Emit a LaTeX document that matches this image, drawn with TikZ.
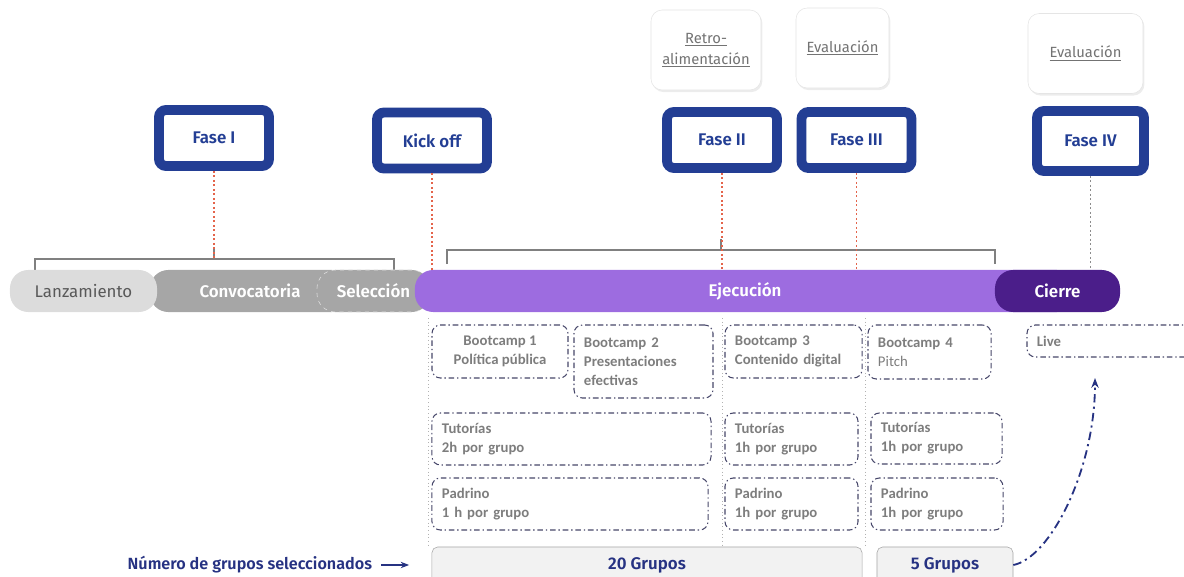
\documentclass[tikz,border=0pt]{standalone}
\usepackage{fontspec}
\setmainfont{Fira Sans}[BoldFont={Fira Sans SemiBold}]
\newfontfamily\carlito{Carlito}
\usetikzlibrary{arrows.meta,shadows}

\definecolor{fasblue}{RGB}{35,62,148}
\definecolor{ejpurple}{RGB}{157,108,224}
\definecolor{cipurple}{RGB}{75,30,138}
\definecolor{lzgray}{RGB}{220,220,220}
\definecolor{cvgray}{RGB}{166,166,166}
\definecolor{txgray}{RGB}{125,125,125}
\definecolor{actline}{RGB}{70,70,105}
\definecolor{dotred}{RGB}{228,100,75}
\definecolor{numblue}{RGB}{38,50,130}

\begin{document}
\begin{tikzpicture}[x=0.025cm, y=-0.025cm,
        fase/.style={draw=fasblue, fill=white, line width=7pt, rounded corners=5pt,
            minimum width=2.75cm, minimum height=1.4cm, text=fasblue,
            font=\bfseries\fontsize{12}{14}\selectfont,
            drop shadow={opacity=0.3, shadow xshift=1pt, shadow yshift=-2pt}},
        retro/.style={draw=black!10, fill=white, rounded corners=8pt, text=black!55,
            minimum height=2cm, align=center, font=\fontsize{10.5}{15}\selectfont,
            drop shadow={opacity=0.15, shadow xshift=1pt, shadow yshift=-1.5pt}},
        bar/.style={rounded corners=13pt, minimum height=1.05cm, text=white,
            font=\bfseries\fontsize{12}{14}\selectfont},
        act/.style={draw=actline, dash pattern=on 4pt off 2pt on 1pt off 2pt,
            line width=0.75pt, rounded corners=6pt, text=txgray, align=left,
            inner xsep=0.25cm, font=\carlito\bfseries\fontsize{10.5}{13.5}\selectfont},
        grp/.style={draw=black!35, fill=black!5, rounded corners=4pt,
            minimum height=0.9cm, text=numblue, font=\bfseries\fontsize{12}{14}\selectfont},
        redlink/.style={draw=dotred, dotted, line width=1.2pt},
        brk/.style={draw=black!50, line width=1.1pt},
        coldiv/.style={draw=black!30, dotted, line width=0.6pt}
    ]
    \useasboundingbox (0,0) rectangle (1184,577);

    % feedback boxes
    \node[retro, minimum width=2.75cm] (rt1) at (706,50) {\underline{Retro-}\\\underline{alimentación}};
    \node[retro, minimum width=2.325cm] (ev1) at (842.5,48) {\underline{Evaluación}};
    \node[retro, minimum width=2.875cm] (ev2) at (1085.5,53.5) {\underline{Evaluación}};

    % phases
    \node[fase] (f1) at (214,138) {Fase I};
    \node[fase] (ko) at (432,140.5) {Kick off};
    \node[fase] (f2) at (722,140) {Fase II};
    \node[fase] (f3) at (856.5,140) {Fase III};
    \node[fase, minimum width=2.675cm, minimum height=1.5cm] (f4) at (1090.5,141) {Fase IV};

    % brackets
    \coordinate (b1top) at (214,259);
    \draw[brk] (35,271) -- (35,259) -- (394,259) -- (394,271);
    \draw[brk] (b1top) -- (214,248);
    \draw[brk] (447,264) -- (447,250) -- (995,250) -- (995,264);
    \draw[brk] (721,250) -- (721,239);

    % timeline
    \node[bar, fill=cvgray, minimum width=5cm] (cv) at (250,291) {Convocatoria};
    \node[bar, fill=lzgray, text=black!65, minimum width=3.675cm] (lz) at (83.5,291) {\mdseries Lanzamiento};
    \node[bar, fill=cvgray, draw=black!12, dashed, minimum width=2.825cm] (se) at (373.5,291) {Selección};
    \node[bar, fill=ejpurple, minimum width=16.5cm] (ej) at (745,291) {Ejecución};
    \node[bar, fill=cipurple, minimum width=3.125cm] (ci) at (1057.5,291) {Cierre};

    % phase links
    \draw[redlink] (f1.south) -- (b1top);
    \draw[redlink] (ko.south) -- (ko.south |- ej.north);
    \draw[redlink] (f2.south) -- (f2.south |- ej.north);
    \draw[redlink] (f3.south) -- (f3.south |- ej.north);
    \draw[coldiv, draw=black!45, line width=1.2pt] (f4.south) -- (f4.south |- ci.north);

    % column dividers
    \draw[coldiv] (428,318) -- (428,548);
    \draw[coldiv] (722,318) -- (722,548);
    \draw[coldiv] (865,318) -- (865,548);

    % activities
    \node[act, align=center, minimum width=3.4cm, minimum height=1.325cm] (bc1) at (500,351.5) {Bootcamp 1\\Política pública};
    \node[act, text width=2.975cm, minimum height=1.825cm] (bc2) at (643.5,361.5) {Bootcamp 2\\Presentaciones\\efectivas};
    \node[act, text width=2.925cm, minimum height=1.325cm] (bc3) at (793.5,351.5) {Bootcamp 3\\Contenido digital};
    \node[act, text width=2.575cm, minimum height=1.35cm] (bc4) at (929.5,352) {Bootcamp 4\\\mdseries Pitch};
    \node[act, text width=6.475cm, minimum height=1.3cm] (tu1) at (571.5,439) {Tutorías\\2h por grupo};
    \node[act, text width=2.825cm, minimum height=1.3cm] (tu2) at (791.5,439) {Tutorías\\1h por grupo};
    \node[act, text width=2.775cm, minimum height=1.275cm] (tu3) at (936.5,438.5) {Tutorías\\1h por grupo};
    \node[act, text width=6.4cm, minimum height=1.3cm] (pa1) at (570,504) {Padrino\\1 h por grupo};
    \node[act, text width=2.825cm, minimum height=1.3cm] (pa2) at (791.5,504) {Padrino\\1h por grupo};
    \node[act, text width=2.8cm, minimum height=1.3cm] (pa3) at (937,504) {Padrino\\1h por grupo};
    \node[act, text width=3.825cm, minimum height=0.8cm] (lv) at (1113.5,341) {Live};

    % groups
    \node[grp, minimum width=10.75cm] (g20) at (647,565) {20 Grupos};
    \node[grp, minimum width=3.4cm] (g5) at (945,565) {5 Grupos};
    \node[anchor=east, text=numblue, font=\bfseries\fontsize{11.5}{14}\selectfont] (num) at (377,565) {Número de grupos seleccionados};

    \coordinate (lvin) at (1095,378);
    \draw[numblue, line width=1.3pt, -{Stealth[length=6pt]}, shorten <=3pt, shorten >=16pt] (num.east) -- (g20.west);
    \draw[numblue, line width=1.3pt, dash pattern=on 6pt off 3pt on 1.5pt off 3pt, -{Stealth[length=7pt]}]
        (g5.east) .. controls (1050,558) and (1095,470) .. (lvin);
\end{tikzpicture}
\end{document}
